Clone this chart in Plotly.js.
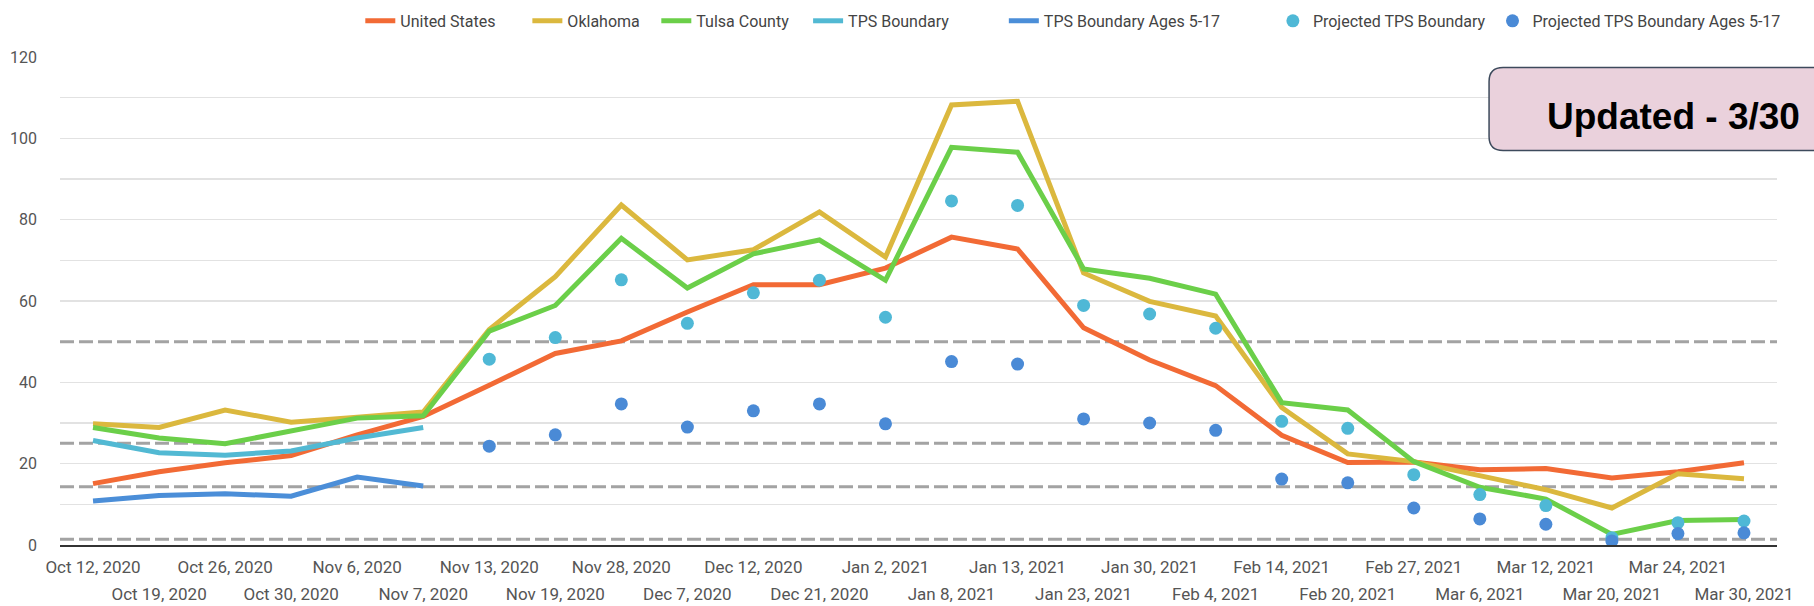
<!DOCTYPE html>
<html>
<head>
<meta charset="utf-8">
<script src="https://cdn.plot.ly/plotly-3.0.1.min.js"></script>
<style>
  html, body { margin: 0; padding: 0; background: #ffffff; }
  #chart { width: 1814px; height: 606px; }
</style>
</head>
<body>
<div id="chart"></div>
<script>
// ---- Data ----
const categories = ["Oct 12, 2020","Oct 19, 2020","Oct 26, 2020","Oct 30, 2020","Nov 6, 2020","Nov 7, 2020",
  "Nov 13, 2020","Nov 19, 2020","Nov 28, 2020","Dec 7, 2020","Dec 12, 2020","Dec 21, 2020",
  "Jan 2, 2021","Jan 8, 2021","Jan 13, 2021","Jan 23, 2021","Jan 30, 2021","Feb 4, 2021",
  "Feb 14, 2021","Feb 20, 2021","Feb 27, 2021","Mar 6, 2021","Mar 12, 2021","Mar 20, 2021",
  "Mar 24, 2021","Mar 30, 2021"];

const unitedStates = [15.1,18,20.2,22,27.1,31.6,39.3,47.1,50.2,57.3,64,64,68.1,75.7,72.8,53.4,45.5,39.2,27,20.3,20.4,18.5,18.8,16.5,18,20.2];
const oklahoma     = [29.8,28.9,33.2,30.2,31.4,32.7,53,66,83.6,70.1,72.6,81.9,70.8,108.2,109.1,66.9,59.9,56.3,33.8,22.4,20.5,16.9,13.6,9.1,17.5,16.3];
const tulsaCounty  = [28.9,26.3,24.9,27.9,31.2,31.8,52.6,58.9,75.4,63.2,71.6,75,65.1,97.8,96.6,67.9,65.6,61.7,35,33.2,20.5,14.2,11.3,2.6,6,6.3];
const tpsBoundary  = [25.7,22.7,22.1,23.1,26.3,28.9,null,null,null,null,null,null,null,null,null,null,null,null,null,null,null,null,null,null,null,null];
const tpsAges      = [10.8,12.2,12.6,12.0,16.7,14.5,null,null,null,null,null,null,null,null,null,null,null,null,null,null,null,null,null,null,null,null];
const projTps      = [null,null,null,null,null,null,45.7,51,65.2,54.5,62,65.1,56,84.6,83.5,58.9,56.8,53.3,30.4,28.7,17.3,12.4,9.7,1.8,5.5,5.9];
const projAges     = [null,null,null,null,null,null,24.3,27.1,34.7,29,33,34.7,29.8,45.1,44.5,31,30,28.2,16.2,15.3,9.1,6.4,5.1,1,2.8,3];

const thresholds = [50, 25, 14.3, 1.4];
const seriesNames = ["United States","Oklahoma","Tulsa County","TPS Boundary","TPS Boundary Ages 5-17","Projected TPS Boundary","Projected TPS Boundary Ages 5-17"];
const noteText = "Updated - 3/30";

// ---- Styles ----
const colors = ["#f26a35","#dbb83e","#6bcf49","#52b9d3","#4b8ed8","#4fb8d6","#4a8ad6"];
const legendX = [0.1749, 0.2722, 0.3473, 0.4357, 0.5497, 0.7064, 0.8343];
const lineSeries = [unitedStates, oklahoma, tulsaCounty, tpsBoundary, tpsAges];
const dotSeries = [projTps, projAges];
const legendIds = ["legend","legend2","legend3","legend4","legend5","legend6","legend7"];

const traces = [];
lineSeries.forEach((ys, i) => {
  traces.push({
    type: "scatter", mode: "lines", name: seriesNames[i], legend: legendIds[i],
    x: categories, y: ys,
    line: { color: colors[i], width: 5 },
    connectgaps: false, hoverinfo: "x+y+name"
  });
});
dotSeries.forEach((ys, j) => {
  const i = j + 5;
  traces.push({
    type: "scatter", mode: "markers", name: seriesNames[i], legend: legendIds[i],
    x: categories, y: ys,
    xaxis: j === 1 ? "x2" : "x",
    marker: { color: colors[i], size: 13 },
    hoverinfo: "x+y+name"
  });
});

const evenIdx = categories.map((c, i) => i).filter(i => i % 2 === 0);
const oddIdx = categories.map((c, i) => i).filter(i => i % 2 === 1);

const shapes = thresholds.map(t => ({
  type: "line", xref: "paper", yref: "y", x0: 0, x1: 1, y0: t, y1: t,
  line: { color: "#a3a3a3", width: 3, dash: "14px,5px" }, layer: "between"
}));

// rounded note box (paper coords)
const L = 0.8323, R = 1.035, T = 0.9785, B = 0.8086, rx = 0.0082, ry = 0.0287;
shapes.push({
  type: "path", xref: "paper", yref: "paper",
  path: `M ${L+rx},${B} L ${R},${B} L ${R},${T} L ${L+rx},${T} Q ${L},${T} ${L},${T-ry} L ${L},${B+ry} Q ${L},${B} ${L+rx},${B} Z`,
  fillcolor: "#ead1dc", line: { color: "#3d4a5c", width: 1.5 }, layer: "above"
});

const tickFont = { family: "Roboto, sans-serif", size: 17, color: "#555555" };

const layout = {
  width: 1814, height: 606,
  margin: { l: 60, r: 37, t: 57, b: 61, pad: 0, autoexpand: false },
  paper_bgcolor: "#ffffff", plot_bgcolor: "#ffffff",
  showlegend: true,
  xaxis: {
    type: "category", categoryorder: "array", categoryarray: categories,
    range: [-0.5, categories.length - 0.5],
    tickmode: "array", tickvals: evenIdx.map(i => categories[i]), ticktext: evenIdx.map(i => categories[i]),
    tickangle: 0, ticks: "", showgrid: false, zeroline: false,
    showline: true, linecolor: "#333333", linewidth: 2,
    tickfont: tickFont, ticklabelstandoff: 6
  },
  xaxis2: {
    type: "category", categoryorder: "array", categoryarray: categories,
    overlaying: "x", matches: "x", anchor: "y", side: "bottom",
    range: [-0.5, categories.length - 0.5],
    tickmode: "array", tickvals: oddIdx.map(i => categories[i]), ticktext: oddIdx.map(i => categories[i]),
    tickangle: 0, ticks: "", showgrid: false, zeroline: false, showline: false,
    tickfont: tickFont, ticklabelstandoff: 37
  },
  yaxis: {
    range: [0, 120], dtick: 20, tick0: 0,
    showgrid: true, gridcolor: "#e2e2e2", gridwidth: 1.5,
    minor: { tickmode: "array", tickvals: [10, 30, 70, 90, 110], showgrid: true, gridcolor: "#e2e2e2", gridwidth: 1.5 },
    zeroline: false, showline: false, ticks: "",
    tickfont: { family: "Roboto, sans-serif", size: 16, color: "#555555" },
    ticklabelstandoff: 22
  },
  shapes: shapes,
  annotations: [{
    xref: "paper", yref: "paper", x: 0.940, y: 0.879, xanchor: "center", yanchor: "middle",
    text: "<b>" + noteText + "</b>", showarrow: false,
    font: { family: "Liberation Sans, Arial, sans-serif", size: 37, color: "#000000" }
  }]
};

legendIds.forEach((id, i) => {
  layout[id] = {
    orientation: "h", x: legendX[i], xanchor: "left", y: 1.074, yanchor: "middle",
    font: { family: "Roboto, sans-serif", size: 16, color: "#444444" },
    bgcolor: "rgba(0,0,0,0)", itemwidth: 30, borderwidth: 0
  };
});

Plotly.newPlot("chart", traces, layout, { displayModeBar: false, staticPlot: true });
</script>
</body>
</html>
